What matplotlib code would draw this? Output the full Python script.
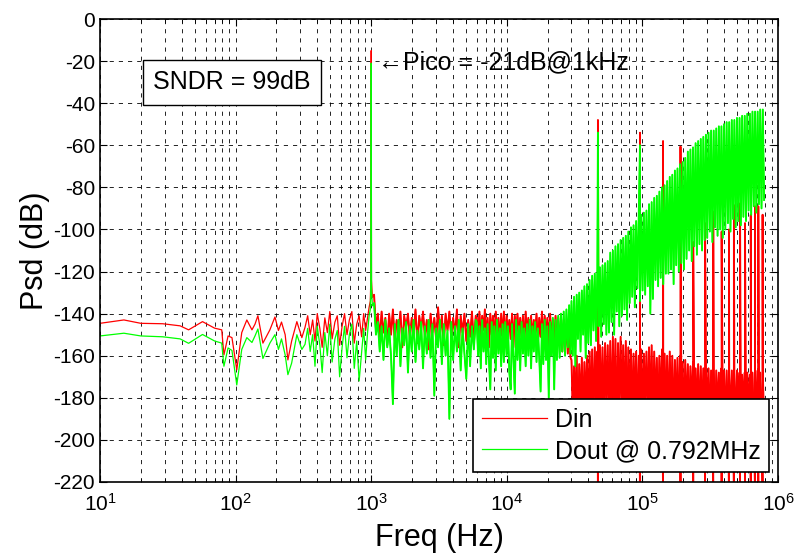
import numpy as np
import matplotlib
matplotlib.use('Agg')
import matplotlib.pyplot as plt
from matplotlib.ticker import LogLocator, NullFormatter

# ---- data (dB) ----
# low-frequency part, explicit bins (includes the 1 kHz tone)
lf_freq = [10, 15, 20, 29, 39, 45, 57, 70, 79,
           82, 88, 94, 102, 111, 121, 132, 139, 146, 159, 179, 195, 207, 218, 232, 243, 259, 283, 308, 325,
           340, 355, 370, 385, 400, 418, 435, 455, 475, 495, 515, 540, 562, 585, 610, 636, 663, 690, 720,
           750, 782, 815, 850, 880, 910, 940, 965,
           985, 995, 1000, 1005, 1020]
lf_din = [-144.6, -143.0, -144.6, -144.8, -145.8, -147.7, -143.8, -146.9, -147.7,
          -159.6, -150.6, -151.4, -166.7, -149, -143, -147.7, -145, -141, -154, -147.7, -141.6, -148, -144,
          -150, -162, -153, -143.8, -151.4, -146.5,
          -141, -150, -143, -153, -140, -147, -156, -142, -149, -139, -152, -144, -141, -155, -146, -140,
          -150, -143, -139, -154, -145, -141, -151, -140, -148, -142, -137,
          -134, -122, -15, -124, -132]
lf_dout = [-150.6, -149.3, -150.6, -151, -152, -154.1, -149.9, -153, -154,
           -165, -156.3, -157.5, -173.9, -157, -151.4, -153.7, -150.6, -147.3, -161.3, -154, -150, -157, -152,
           -159.6, -169, -163.5, -150, -157, -154.6,
           -147, -158, -150, -165, -146, -155, -168, -149, -160, -145, -163, -152, -148, -170, -156, -146,
           -161, -150, -145, -166, -153, -172, -158, -147, -162, -149, -141,
           -138, -126, -21, -128, -136]

# 1.05 kHz .. 5.9 kHz noise floor
mid1_range = (1050, 5900)
mid1_din = [-131, -147, -140, -152, -139, -149, -142, -155, -140, -150,
            -138, -153, -143, -148, -139, -156, -141, -147, -140, -152,
            -142, -150, -138, -154, -141, -148, -139, -151, -143, -157,
            -140, -149, -142, -153, -137, -150, -141, -155, -140, -148,
            -139, -152, -142, -150, -138, -156, -141, -149, -140, -153,
            -143, -151, -139, -154, -141]
mid1_dout = [-135, -150, -144, -158, -146, -162, -143, -156, -147, -160,
             -183, -145, -160, -143, -165, -147, -155, -144, -168, -146,
             -158, -143, -163, -148, -157, -144, -166, -146, -159, -143,
             -161, -145, -179, -147, -156, -143, -164, -145, -160, -148,
             -190, -144, -162, -146, -158, -143, -167, -147, -159, -171,
             -145, -165, -146, -157, -143]

# 6 kHz .. 29.5 kHz noise floor
mid2_range = (6000, 29500)
mid2_din = [-142, -151, -139, -154, -141, -148, -138, -152, -142, -156,
            -140, -150, -141, -153, -139, -149, -142, -155, -140, -151,
            -139, -154, -141, -150, -143, -152, -140, -156, -141, -149,
            -140, -153, -142, -151, -141, -155, -139, -150, -142, -154,
            -141, -152, -143, -149, -140, -155, -142, -151, -139, -153,
            -141, -150, -142, -156, -140, -152, -143, -154, -141, -157,
            -142, -155, -144, -158, -143, -156, -145, -159, -146, -161]
mid2_dout = [-144, -160, -146, -166, -143, -158, -147, -164, -145, -162,
             -176, -144, -161, -146, -167, -143, -159, -147, -165, -145,
             -163, -144, -160, -146, -168, -176, -145, -161, -178, -143,
             -162, -146, -167, -144, -159, -147, -165, -145, -160, -143,
             -166, -146, -158, -144, -163, -147, -161, -177, -145, -164,
             -143, -162, -146, -180, -144, -160, -142, -176, -143, -162,
             -141, -161, -140, -158, -139, -160, -138, -156, -136, -159]

# 30 kHz .. 790 kHz shaped noise
hf_range = (30000, 790000)
hf_din = [-162, -188, -165, -183, -160, -195, -164, -186, -161, -192, -163, -185, -160, -190, -158,
          -187, -157, -193, -156, -184, -158, -197, -155, -186, -156, -191, -154, -185, -155, -189,
          -153, -194, -151, -186, -152, -199, -154, -185, -151, -191, -155, -188, -153, -196, -156,
          -186, -157, -192, -159, -185, -158, -195, -160, -188, -157, -193, -159, -184, -158, -190,
          -156, -187, -155, -194, -158, -185, -161, -191, -160, -186, -157, -196, -159, -188, -160,
          -192, -158, -185, -160, -197, -162, -187, -161, -193, -160, -186, -163, -195, -162, -188,
          -164, -191, -165, -186, -163, -195, -166, -187, -164, -192, -165, -189, -166, -194, -165,
          -186, -166, -193, -167, -188, -166, -196, -167, -187, -168, -192, -166, -189, -167, -195,
          -167, -187, -168, -192, -167, -189, -168, -196, -167, -186, -168, -193, -169, -188, -168,
          -195, -168, -187, -169, -192, -168, -189, -168, -196, -167, -188, -168, -193, -169, -190]
hf_dout = [-134, -160, -132, -165, -131, -152, -130, -158, -129, -150, -127, -161, -126, -154, -124,
           -155, -122, -148, -121, -153, -119, -146, -118, -151, -117, -145, -116, -150, -115, -149,
           -111, -144, -110, -150, -108, -139, -107, -146, -105, -141, -104, -138, -103, -143, -101,
           -135, -99, -132, -98, -137, -96, -128, -95, -134, -93, -129, -92, -131, -91, -127,
           -88, -140, -87, -133, -85, -124, -84, -127, -82, -123, -80, -126, -79, -121, -77,
           -121, -75, -119, -74, -126, -72, -117, -71, -120, -69, -116, -68, -119, -66, -114,
           -63, -110, -62, -115, -61, -108, -59, -112, -58, -107, -57, -110, -56, -105, -55,
           -104, -54, -101, -53, -106, -53, -99, -52, -103, -51, -100, -51, -104, -50, -100,
           -49, -97, -49, -101, -48, -95, -48, -99, -47, -96, -47, -98, -46, -94, -46,
           -96, -45, -91, -45, -93, -44, -89, -44, -92, -44, -88, -43, -90, -43, -86]

# tones / spurs (top of the vertical lines); Din drops to the floor next to each one
din_spur_freq = [47000, 96000, 142000, 191000, 237000, 290000, 333000, 384000, 435000,
                 473000, 525000, 571000, 630000, 677000, 716000, 770000]
din_spur_db = [-48, -54, -58, -60.6, -106, -97, -91.5, -101, -100,
               -88.4, -87.6, -97, -93, -89, -89, -93]
din_floor_db = -225
dout_tone_freq = [47000, 96000]
dout_tone_db = [-54, -60]


def build(parts):
    f = np.concatenate([np.asarray(p[0], float) for p in parts])
    v = np.concatenate([np.asarray(p[1], float) for p in parts])
    order = np.argsort(f, kind='stable')
    return f[order], v[order]


spur_pairs_f = np.repeat(din_spur_freq, 2)
spur_pairs_v = np.ravel([[din_floor_db, s] for s in din_spur_db])

din_f, din_v = build([
    (lf_freq, lf_din),
    (np.geomspace(*mid1_range, len(mid1_din)), mid1_din),
    (np.geomspace(*mid2_range, len(mid2_din)), mid2_din),
    (np.geomspace(*hf_range, len(hf_din)), hf_din),
    (spur_pairs_f, spur_pairs_v),
])
dout_f, dout_v = build([
    (lf_freq, lf_dout),
    (np.geomspace(*mid1_range, len(mid1_dout)), mid1_dout),
    (np.geomspace(*mid2_range, len(mid2_dout)), mid2_dout),
    (np.geomspace(*hf_range, len(hf_dout)), hf_dout),
    (dout_tone_freq, dout_tone_db),
])

# ---- plotting ----
plt.rcParams['font.family'] = ['Liberation Sans', 'DejaVu Sans']
plt.rcParams['mathtext.fontset'] = 'custom'
plt.rcParams['mathtext.rm'] = 'Liberation Sans'
plt.rcParams['mathtext.it'] = 'Liberation Sans:italic'
plt.rcParams['axes.unicode_minus'] = False

fig = plt.figure(figsize=(7.95, 5.56), dpi=100)
ax = fig.add_axes([0.1258, 0.1331, 0.8528, 0.8327])

red, green = '#ff0000', '#00ff00'
dense_din = din_f >= 1020
dense_dout = dout_f >= 1020

# thin trace everywhere, heavier where the FFT bins are packed tight
ax.semilogx(din_f, din_v, color=red, lw=0.9, label='Din')
ax.semilogx(din_f[dense_din], din_v[dense_din], color=red, lw=1.35)
ax.semilogx(dout_f, dout_v, color=green, lw=0.9, label='Dout @ 0.792MHz')
ax.semilogx(dout_f[dense_dout], dout_v[dense_dout], color=green, lw=1.35)

ax.set_xlim(10, 1e6)
ax.set_ylim(-220, 0)
ax.set_yticks(np.arange(-220, 1, 20))
ax.xaxis.set_minor_locator(LogLocator(base=10, subs=np.arange(2, 10)))
ax.xaxis.set_minor_formatter(NullFormatter())

dash = (0, (5, 6))
ax.set_axisbelow(True)
ax.grid(True, which='major', axis='both', color='k', ls=dash, lw=0.6)
ax.grid(True, which='minor', axis='x', color='k', ls=dash, lw=0.6)

ax.tick_params(which='both', direction='in', top=True, right=True, labelsize=15)
ax.tick_params(which='major', length=5, width=0.8)
ax.tick_params(which='minor', length=3, width=0.6)
ax.tick_params(axis='x', pad=8)
for s in ax.spines.values():
    s.set_linewidth(1.2)

ax.set_xlabel('Freq (Hz)', fontsize=22, labelpad=6)
ax.set_ylabel('Psd (dB)', fontsize=22, labelpad=2)

ax.text(94, -30, 'SNDR = 99dB', fontsize=18, ha='center', va='center',
        bbox=dict(boxstyle='square,pad=0.42', fc='white', ec='black', lw=1))
ax.text(1120, -20.5, '\u2190Pico = -21dB@1kHz', fontsize=18, ha='left', va='center',
        family=['Liberation Sans', 'DejaVu Sans'])

leg = ax.legend(loc='lower right', bbox_to_anchor=(0.987, 0.022), borderaxespad=0,
                fontsize=18, handlelength=2.6, handletextpad=0.3, labelspacing=0.3,
                fancybox=False, framealpha=1, edgecolor='black', borderpad=0.35)
leg.get_frame().set_linewidth(1.2)

fig.savefig('out.png', dpi=100)
